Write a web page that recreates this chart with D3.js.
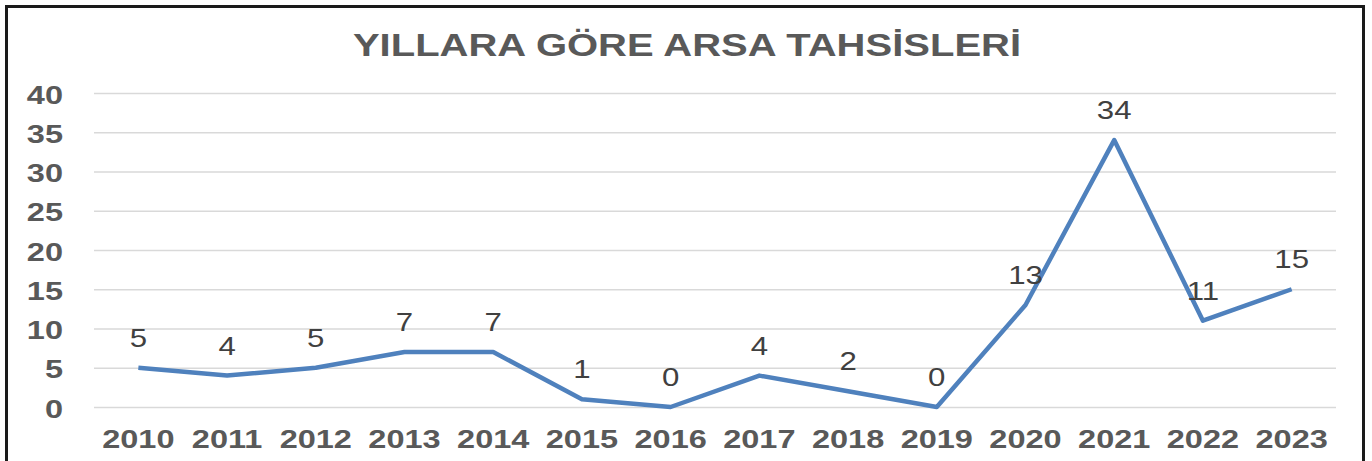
<!DOCTYPE html>
<html>
<head>
<meta charset="utf-8">
<script src="https://cdn.jsdelivr.net/npm/d3@7"></script>
<style>
  html, body { margin: 0; padding: 0; background: #fff; }
  svg { display: block; font-family: "Liberation Sans", Arial, sans-serif; }
</style>
</head>
<body>
<div id="chart"></div>
<script>
// Data
const years = ['2010', '2011', '2012', '2013', '2014', '2015', '2016', '2017', '2018', '2019', '2020', '2021', '2022', '2023'];
const allocations = [5, 4, 5, 7, 7, 1, 0, 4, 2, 0, 13, 34, 11, 15];
const yTicks = [0, 5, 10, 15, 20, 25, 30, 35, 40];
const chartTitle = 'YILLARA GÖRE ARSA TAHSİSLERİ';

// Configuration
const width = 1372;
const height = 461;
const margin = { top: 93, right: 36, bottom: 54, left: 94 };
const innerW = width - margin.left - margin.right;
const innerH = height - margin.top - margin.bottom;
const textGray = '#595959';

const svg = d3.select('#chart')
    .append('svg')
    .attr('width', width)
    .attr('height', height);

// Outer frame
svg.append('rect')
    .attr('x', 6.5)
    .attr('y', 6.5)
    .attr('width', 1357)
    .attr('height', 470)
    .attr('fill', 'none')
    .attr('stroke', '#1a1a1a')
    .attr('stroke-width', 3);

// Title (text in the reference is wide, so stretch horizontally)
svg.append('text')
    .attr('transform', `translate(687, 56) scale(1.25, 1)`)
    .attr('text-anchor', 'middle')
    .attr('font-size', 32)
    .attr('font-weight', 'bold')
    .attr('fill', textGray)
    .text(chartTitle);

const g = svg.append('g')
    .attr('transform', `translate(${margin.left}, ${margin.top})`);

// Scales
const x = d3.scaleBand()
    .domain(years)
    .range([0, innerW]);

const y = d3.scaleLinear()
    .domain([0, 40])
    .range([innerH, 0]);

// Y axis with gridlines
const yAxis = g.append('g')
    .call(d3.axisLeft(y).tickValues(yTicks).tickSize(-innerW));
yAxis.select('.domain').remove();
yAxis.selectAll('line')
    .attr('stroke', '#d9d9d9')
    .attr('stroke-width', 1.5);
yAxis.selectAll('text')
    .attr('x', null)
    .attr('dy', null)
    .attr('transform', 'translate(-31, 10) scale(1.3, 1)')
    .attr('text-anchor', 'end')
    .attr('font-size', 25)
    .attr('font-weight', 'bold')
    .attr('font-family', '"Liberation Sans", Arial, sans-serif')
    .attr('fill', textGray);

// X axis labels
const xAxis = g.append('g')
    .attr('transform', `translate(0, ${innerH})`)
    .call(d3.axisBottom(x).tickSize(0));
xAxis.select('.domain').remove();
xAxis.selectAll('text')
    .attr('y', null)
    .attr('dy', null)
    .attr('transform', 'translate(0, 41) scale(1.3, 1)')
    .attr('text-anchor', 'middle')
    .attr('font-size', 25)
    .attr('font-weight', 'bold')
    .attr('font-family', '"Liberation Sans", Arial, sans-serif')
    .attr('fill', textGray);

// Line
const points = years.map((yr, i) => ({ year: yr, value: allocations[i] }));
const line = d3.line()
    .x(d => x(d.year) + x.bandwidth() / 2)
    .y(d => y(d.value));

g.append('path')
    .datum(points)
    .attr('fill', 'none')
    .attr('stroke', '#4F81BD')
    .attr('stroke-width', 4.5)
    .attr('stroke-linejoin', 'round')
    .attr('d', line);

// Data labels
g.selectAll('.data-label')
    .data(points)
    .enter()
    .append('text')
    .attr('class', 'data-label')
    .attr('transform', d => `translate(${x(d.year) + x.bandwidth() / 2}, ${y(d.value) - 21}) scale(1.2, 1)`)
    .attr('text-anchor', 'middle')
    .attr('font-size', 26)
    .attr('fill', '#404040')
    .text(d => d.value);
</script>
</body>
</html>
